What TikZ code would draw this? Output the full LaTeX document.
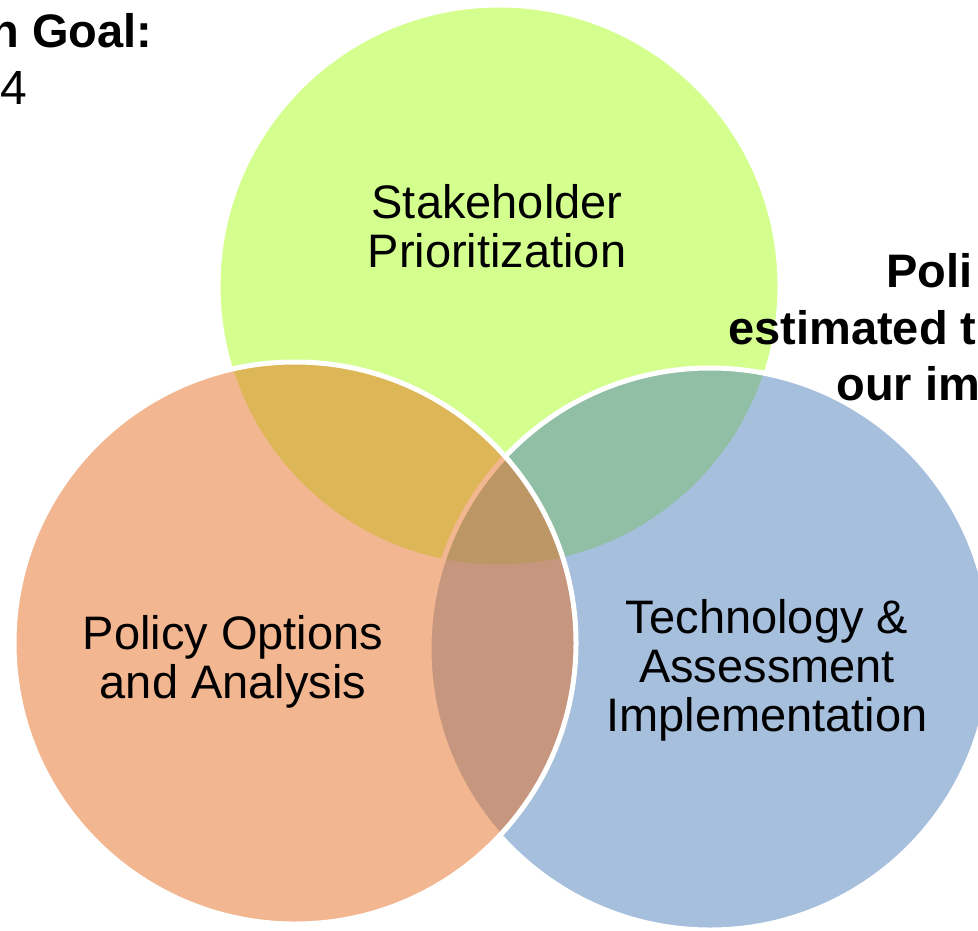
\documentclass[tikz,border=0pt]{standalone}
\usepackage{fontspec}
\setmainfont{Liberation Sans}
\definecolor{greenc}{RGB}{212,255,143}
\definecolor{orangec}{RGB}{231,111,35}
\definecolor{bluec}{RGB}{79,129,189}
\begin{document}
\begin{tikzpicture}[x=0.5pt,y=-0.5pt,
  circ/.style={circle, draw=white, line width=2.5pt, minimum size=281pt, inner sep=0pt},
  lbl/.style={align=center, font=\fontsize{23.5pt}{24.5pt}\selectfont, inner sep=0pt},
  boldtxt/.style={font=\fontsize{23.5pt}{28pt}\selectfont\bfseries, inner sep=0pt, anchor=base west},
  plaintxt/.style={font=\fontsize{24pt}{28pt}\selectfont, inner sep=0pt, anchor=base west}]
\useasboundingbox (0,0) rectangle (978,930);
\clip (0,0) rectangle (978,930);
\fill[white] (0,0) rectangle (978,930);
% circles
\node[circ, fill=greenc] (green) at (499,286) {};
\node[circ, fill=bluec, fill opacity=0.5] (blue) at (710,649) {};
\node[circ, fill=orangec, fill opacity=0.5] (orange) at (295,643) {};
% circle labels
\node[lbl] (tstake) at (497,226) {Stakeholder\\Prioritization};
\node[lbl] (tpolicy) at (233,662) {Policy Options\\and Analysis};
\node[lbl] (ttech) at (767,670) {Technology \&\\Assessment\\Implementation};
% clipped side texts
\node[boldtxt] (goal) at (-10,48) {n Goal:};
\node[plaintxt] (four) at (0,105) {4};
\node[boldtxt] (poli) at (886,287) {Poli};
\node[boldtxt] (estim) at (728,344) {estimated t};
\node[boldtxt] (ourim) at (836,400) {our im};
\end{tikzpicture}
\end{document}
